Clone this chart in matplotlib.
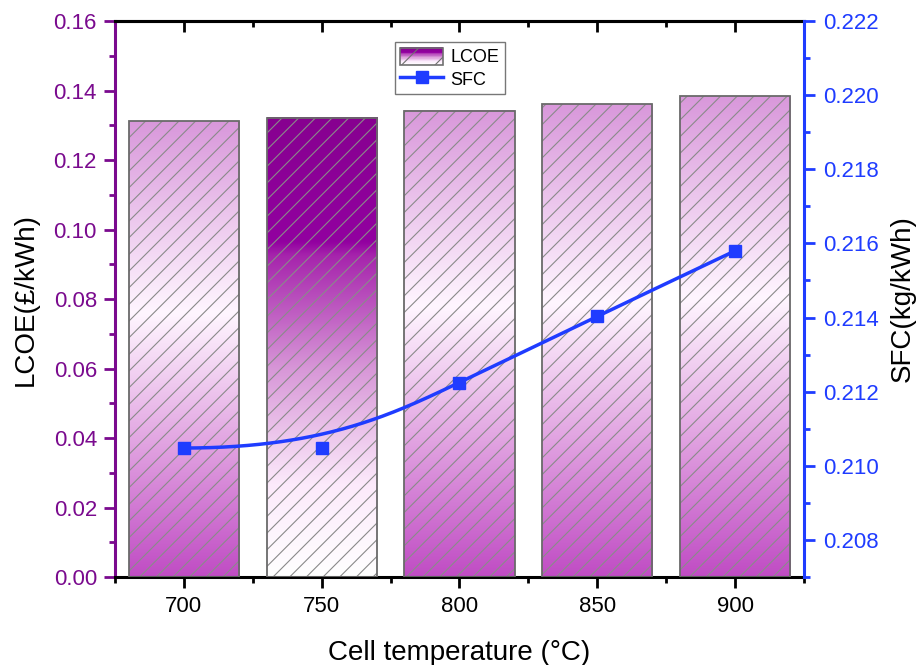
import numpy as np
import matplotlib
matplotlib.use('Agg')
import matplotlib.pyplot as plt
from matplotlib.colors import LinearSegmentedColormap
from matplotlib.legend_handler import HandlerBase
from matplotlib.patches import Rectangle, Patch
from matplotlib.lines import Line2D
from matplotlib.ticker import MultipleLocator, FixedLocator

plt.rcParams['font.family'] = ['Liberation Sans', 'DejaVu Sans']
plt.rcParams['hatch.linewidth'] = 0.8

# 数据
temps = ['700', '750', '800', '850', '900']
lcoe = [0.1312, 0.1321, 0.1341, 0.1361, 0.1384]
sfc = [0.21048, 0.21048, 0.21224, 0.21404, 0.21580]
highlight = 1  # 750 的柱子用深色渐变

purple = '#7A0A8E'
blue = '#1F3CFF'

# 渐变色 (0 = 底部, 1 = 顶部)
cmap_normal = LinearSegmentedColormap.from_list('normal', [
    (0.0, '#C04CC4'), (0.3, '#E2A6E2'), (0.58, '#FFF6FF'), (1.0, '#D998DB')])
cmap_dark = LinearSegmentedColormap.from_list('dark', [
    (0.0, '#FFFFFF'), (0.2, '#FCEAFB'), (0.45, '#D898D8'), (0.7, '#A624AC'),
    (0.73, '#9200A0'), (1.0, '#870090')])


def bspline(cx, cy, k=3, n=300):
    # clamped B-spline, 控制点就是数据点
    m = len(cx)
    knots = np.concatenate([np.zeros(k), np.linspace(0, 1, m - k + 1), np.ones(k)])
    t = np.linspace(0, 1 - 1e-9, n)
    B = np.zeros((n, len(knots) - 1))
    for i in range(len(knots) - 1):
        B[:, i] = (t >= knots[i]) & (t < knots[i + 1])
    for p in range(1, k + 1):
        Bn = np.zeros((n, len(knots) - 1 - p))
        for i in range(len(knots) - 1 - p):
            a = knots[i + p] - knots[i]
            b = knots[i + p + 1] - knots[i + 1]
            left = (t - knots[i]) / a * B[:, i] if a > 0 else 0
            right = (knots[i + p + 1] - t) / b * B[:, i + 1] if b > 0 else 0
            Bn[:, i] = left + right
        B = Bn
    return B @ np.asarray(cx), B @ np.asarray(cy)


class HandlerGradient(HandlerBase):
    def create_artists(self, legend, orig_handle, xdescent, ydescent,
                       width, height, fontsize, trans):
        arts = []
        n = 30
        for i in range(n):
            r = Rectangle((-xdescent, -ydescent + height * i / n), width, height / n + 0.3,
                          facecolor=cmap_dark(i / (n - 1)), edgecolor='none', transform=trans)
            arts.append(r)
        arts.append(Rectangle((-xdescent, -ydescent), width, height, facecolor='none',
                              edgecolor='#707070', hatch='/', lw=1.2, transform=trans))
        return arts


fig = plt.figure(figsize=(9.21, 6.65), dpi=100)
ax1 = fig.add_axes([0.1249, 0.1323, 0.748, 0.8361])
x = np.arange(len(temps))
w = 0.8
for i in range(len(temps)):
    cm = cmap_dark if i == highlight else cmap_normal
    grad = np.linspace(0, 1, 256).reshape(-1, 1)
    ax1.imshow(grad, cmap=cm, origin='lower', aspect='auto', interpolation='bilinear',
               extent=[x[i] - w / 2, x[i] + w / 2, 0, lcoe[i]], zorder=1)
ax1.bar(x, lcoe, width=w, facecolor='none', edgecolor='#8a8a8a', hatch='//', lw=0, zorder=2)
ax1.bar(x, lcoe, width=w, facecolor='none', edgecolor='#6a6a6a', lw=1.3, zorder=3)

ax1.set_xlim(-0.5, 4.5)
ax1.set_ylim(0, 0.16)
ax1.set_xticks(x)
ax1.set_xticklabels(temps)
ax1.xaxis.set_minor_locator(FixedLocator(np.arange(-0.5, 5, 1)))
ax1.yaxis.set_major_locator(MultipleLocator(0.02))
ax1.yaxis.set_minor_locator(MultipleLocator(0.01))
ax1.yaxis.set_major_formatter(matplotlib.ticker.FormatStrFormatter('%.2f'))
ax1.tick_params(axis='x', which='major', direction='out', length=8, width=2, labelsize=16, pad=6)
ax1.tick_params(axis='x', which='minor', direction='out', length=4, width=2)
ax1.tick_params(axis='y', which='major', direction='out', length=8, width=2,
                colors=purple, labelsize=16, pad=5)
ax1.tick_params(axis='y', which='minor', direction='out', length=4, width=2, colors=purple)
ax1.spines['left'].set_color(purple)
for s in ['left', 'bottom', 'top']:
    ax1.spines[s].set_linewidth(2.2)
ax1.spines['right'].set_visible(False)
ax1.set_xlabel('Cell temperature (°C)', fontsize=20, labelpad=16)
ax1.set_ylabel('LCOE(£/kWh)', fontsize=20, labelpad=11)

# 顶部刻度朝内
top = ax1.secondary_xaxis('top')
top.set_xticks(x)
top.xaxis.set_minor_locator(FixedLocator(np.arange(-0.5, 5, 1)))
top.tick_params(axis='x', which='major', direction='in', length=8, width=2, labeltop=False)
top.tick_params(axis='x', which='minor', direction='in', length=4, width=2)
top.spines['top'].set_linewidth(2.2)

ax2 = ax1.twinx()
xs, ys = bspline(x, sfc)
ax2.plot(xs, ys, color=blue, lw=2.5, zorder=4)
ax2.plot(x, sfc, 's', color=blue, ms=8, zorder=5)
ax2.set_ylim(0.207, 0.222)
ax2.yaxis.set_major_locator(MultipleLocator(0.002))
ax2.yaxis.set_minor_locator(MultipleLocator(0.001))
ax2.yaxis.set_major_formatter(matplotlib.ticker.FormatStrFormatter('%.3f'))
ax2.tick_params(axis='y', which='major', direction='out', length=8, width=2,
                colors=blue, labelsize=16, pad=6)
ax2.tick_params(axis='y', which='minor', direction='out', length=4, width=2, colors=blue)
ax2.spines['right'].set_color(blue)
ax2.spines['right'].set_linewidth(2.2)
for s in ['left', 'bottom', 'top']:
    ax2.spines[s].set_visible(False)
ax2.set_ylabel('SFC(kg/kWh)', fontsize=20, labelpad=8)

handles = [Patch(label='LCOE'),
           Line2D([], [], color=blue, lw=2.5, marker='s', ms=8, label='SFC')]
leg = ax2.legend(handles=handles, loc='upper left', bbox_to_anchor=(0.406, 0.962),
                 fontsize=13, frameon=True, fancybox=False, edgecolor='#555555',
                 handlelength=2.4, handleheight=1.1, borderpad=0.3, labelspacing=0.2,
                 handletextpad=0.4, borderaxespad=0,
                 handler_map={Patch: HandlerGradient()})
leg.get_frame().set_linewidth(1.0)

plt.savefig('out.png', dpi=100)
